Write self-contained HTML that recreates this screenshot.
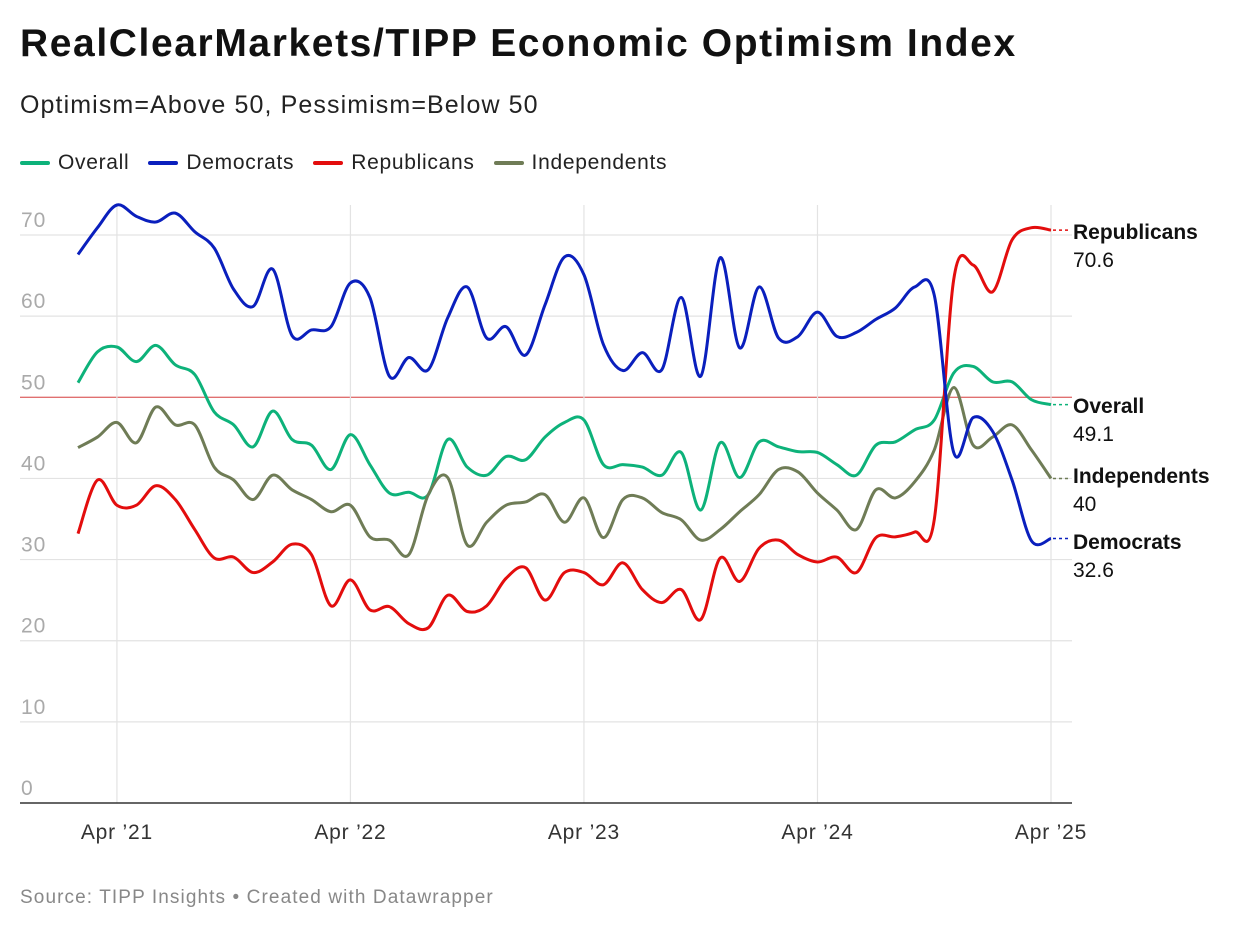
<!DOCTYPE html>
<html><head><meta charset="utf-8">
<style>
body{margin:0;background:#fff;font-family:"Liberation Sans",Roboto,sans-serif;}
#wrap{position:relative;width:1240px;height:932px;overflow:hidden;}
h1{position:absolute;left:20px;top:22px;margin:0;font-size:39px;font-weight:bold;color:#111;letter-spacing:1.6px;white-space:nowrap}
.sub{position:absolute;left:20px;top:91px;font-size:25px;color:#222;letter-spacing:1.1px;white-space:nowrap}
.legend{position:absolute;left:20px;top:151px;font-size:21px;color:#222;display:flex;gap:19px;letter-spacing:0.7px;white-space:nowrap}
.legend span{display:flex;align-items:center}
.legend i{display:inline-block;width:30px;height:4px;margin-right:8px;border-radius:2px}
.src{position:absolute;left:20px;top:887px;font-size:19px;color:#888;letter-spacing:1.1px;white-space:nowrap}
</style></head><body>
<div id="wrap">
<h1>RealClearMarkets/TIPP Economic Optimism Index</h1>
<div class="sub">Optimism=Above 50, Pessimism=Below 50</div>
<div class="legend">
<span><i style="background:#0db27a"></i>Overall</span>
<span><i style="background:#0a1fbd"></i>Democrats</span>
<span><i style="background:#e30d0d"></i>Republicans</span>
<span><i style="background:#6f7c56"></i>Independents</span>
</div>
<svg id="chart" width="1240" height="932" style="position:absolute;left:0;top:0"></svg>
<div class="src">Source: TIPP Insights • Created with Datawrapper</div>
</div>
<script>
const months=["Feb21","Mar21","Apr21","May21","Jun21","Jul21","Aug21","Sep21","Oct21","Nov21","Dec21","Jan22","Feb22","Mar22","Apr22","May22","Jun22","Jul22","Aug22","Sep22","Oct22","Nov22","Dec22","Jan23","Feb23","Mar23","Apr23","May23","Jun23","Jul23","Aug23","Sep23","Oct23","Nov23","Dec23","Jan24","Feb24","Mar24","Apr24","May24","Jun24","Jul24","Aug24","Sep24","Oct24","Nov24","Dec24","Jan25","Feb25","Mar25","Apr25"];
const democrats=[67.6,70.9,73.7,72.3,71.6,72.7,70.4,68.4,63.3,61.2,65.8,57.6,58.3,58.7,64.1,62.3,52.6,54.9,53.4,59.8,63.6,57.3,58.7,55.2,61.4,67.3,65.1,56.5,53.3,55.5,53.4,62.3,52.6,67.2,56.1,63.6,57.3,57.5,60.5,57.5,58,59.6,61,63.6,62.6,43.2,47.5,45.8,39.8,32.3,32.6];
const republicans=[33.2,39.8,36.7,36.7,39.1,37.4,33.7,30.2,30.3,28.4,29.7,31.9,30.6,24.3,27.5,23.8,24.2,22.1,21.6,25.6,23.6,24.3,27.7,29,25,28.4,28.4,26.9,29.6,26.3,24.7,26.3,22.6,30.2,27.3,31.4,32.4,30.6,29.7,30.3,28.4,32.7,32.8,33.4,34.9,64.5,66.3,63,69.4,70.9,70.6];
const overall=[51.8,55.6,56.2,54.4,56.4,54,52.8,48.2,46.6,43.9,48.3,44.8,44.1,41.1,45.4,41.7,38.2,38.3,38,44.8,41.4,40.4,42.7,42.3,45.1,46.9,47.2,41.7,41.7,41.4,40.4,43.2,36.1,44.4,40.1,44.5,43.9,43.3,43.2,41.7,40.4,44.1,44.5,46,47.2,53,53.8,51.9,51.9,49.7,49.1];
const independents=[43.8,45.1,46.9,44.4,48.8,46.6,46.6,41.4,39.8,37.4,40.4,38.6,37.4,35.9,36.7,32.8,32.4,30.6,38,40.1,31.8,34.6,36.7,37.1,38,34.6,37.6,32.7,37.4,37.6,35.8,34.9,32.4,33.7,35.9,38,41.1,40.8,38.2,36.1,33.7,38.6,37.6,39.6,43.5,51.2,44.1,45.1,46.6,43.5,40];
const yTicks=[0,10,20,30,40,50,60,70];
const xTickLabels=["Apr ’21","Apr ’22","Apr ’23","Apr ’24","Apr ’25"];
const xTickIdx=[2,14,26,38,50];

const NS="http://www.w3.org/2000/svg";
const svg=document.getElementById('chart');
const x=i=>78+(1051-78)*i/50;
const y=v=>803-v*8.114;
function el(t,a,txt){const e=document.createElementNS(NS,t);for(const k in a)e.setAttribute(k,a[k]);if(txt!=null)e.textContent=txt;svg.appendChild(e);return e;}
yTicks.forEach(t=>{
  if(t>0){const g=el('line',{x1:20,x2:1072,y1:y(t),y2:y(t),stroke:t==50?'#e07070':'#e3e3e3','stroke-width':t==50?1.3:1.2});
  
  }
  const l=el('text',{x:21,y:y(t)-8,'font-size':21,fill:'#aaa','letter-spacing':1,'font-family':'Liberation Sans,sans-serif'},t);
  
  
});
xTickIdx.forEach((idx,k)=>{
  const g=el('line',{x1:x(idx),x2:x(idx),y1:205,y2:803,stroke:'#e3e3e3','stroke-width':1.2});
  
  
  const l=el('text',{x:x(idx),y:839,'font-size':21,fill:'#333','text-anchor':'middle','letter-spacing':0.8,'font-family':'Liberation Sans,sans-serif'},xTickLabels[k]);
  
  
});
const ax=el('line',{x1:20,x2:1072,y1:803,y2:803,stroke:'#333','stroke-width':1.5});


function path(vals){
  const p=vals.map((v,i)=>[x(i),y(v)]);
  let d='M'+p[0][0]+','+p[0][1];
  for(let i=0;i<p.length-1;i++){
    const p0=p[i-1]||p[i],p1=p[i],p2=p[i+1],p3=p[i+2]||p2;
    const c1=[p1[0]+(p2[0]-p0[0])/6,p1[1]+(p2[1]-p0[1])/6];
    const c2=[p2[0]-(p3[0]-p1[0])/6,p2[1]-(p3[1]-p1[1])/6];
    d+=`C${c1[0]},${c1[1]} ${c2[0]},${c2[1]} ${p2[0]},${p2[1]}`;
  }
  return d;
}
const series=[["overall",overall,"#0db27a","Overall",406],["independents",independents,"#6f7c56","Independents",476],["republicans",republicans,"#e30d0d","Republicans",232],["democrats",democrats,"#0a1fbd","Democrats",542]];
series.forEach(s=>{
  const l=el('path',{d:path(s[1]),fill:'none',stroke:s[2],'stroke-width':3,'stroke-linejoin':'round'});
  
  
  const last=s[1][s[1].length-1];
  const c=el('line',{x1:1053,x2:1068,y1:y(last),y2:y(last),stroke:s[2],'stroke-width':1.5,'stroke-dasharray':'3,3'});
  
  
  const t=el('text',{x:1073,y:s[4]+7,'font-size':21,'font-weight':'bold',fill:'#111','font-family':'Liberation Sans,sans-serif'},s[3]);
  
  
  const v=el('text',{x:1073,y:s[4]+35,'font-size':21,fill:'#111','font-family':'Liberation Sans,sans-serif'},last);
  
  
});
</script>
</body></html>
